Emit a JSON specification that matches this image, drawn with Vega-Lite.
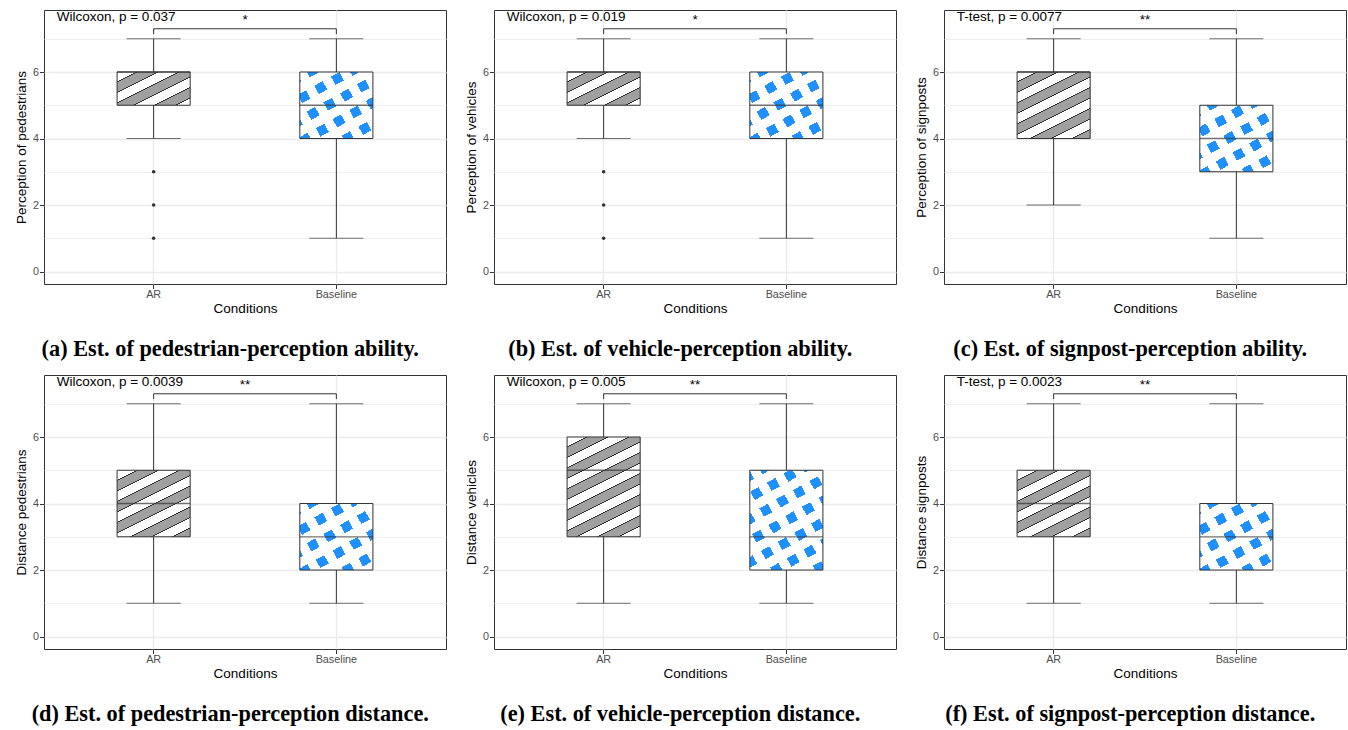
{
"$schema":"https://vega.github.io/schema/vega-lite/v6.json",
"padding":{"left":13,"top":9,"right":0,"bottom":0},
"background":"white",
"datasets":{"d":[
{"p":"a","cond":"AR","lo":4,"q1":5,"med":6,"q3":6,"hi":7},
{"p":"a","cond":"Baseline","lo":1,"q1":4,"med":5,"q3":6,"hi":7},
{"p":"a","cond":"AR","out":3},{"p":"a","cond":"AR","out":2},{"p":"a","cond":"AR","out":1},
{"p":"a","label":"Wilcoxon, p = 0.037","stars":"*"},
{"p":"b","cond":"AR","lo":4,"q1":5,"med":6,"q3":6,"hi":7},
{"p":"b","cond":"Baseline","lo":1,"q1":4,"med":5,"q3":6,"hi":7},
{"p":"b","cond":"AR","out":3},{"p":"b","cond":"AR","out":2},{"p":"b","cond":"AR","out":1},
{"p":"b","label":"Wilcoxon, p = 0.019","stars":"*"},
{"p":"c","cond":"AR","lo":2,"q1":4,"med":6,"q3":6,"hi":7},
{"p":"c","cond":"Baseline","lo":1,"q1":3,"med":4,"q3":5,"hi":7},
{"p":"c","label":"T-test, p = 0.0077","stars":"**"},
{"p":"d","cond":"AR","lo":1,"q1":3,"med":4,"q3":5,"hi":7},
{"p":"d","cond":"Baseline","lo":1,"q1":2,"med":3,"q3":4,"hi":7},
{"p":"d","label":"Wilcoxon, p = 0.0039","stars":"**"},
{"p":"e","cond":"AR","lo":1,"q1":3,"med":5,"q3":6,"hi":7},
{"p":"e","cond":"Baseline","lo":1,"q1":2,"med":3,"q3":5,"hi":7},
{"p":"e","label":"Wilcoxon, p = 0.005","stars":"**"},
{"p":"f","cond":"AR","lo":1,"q1":3,"med":4,"q3":5,"hi":7},
{"p":"f","cond":"Baseline","lo":1,"q1":2,"med":3,"q3":4,"hi":7},
{"p":"f","label":"T-test, p = 0.0023","stars":"**"}
]},
"columns":3,
"spacing":{"row":91,"column":48},
"bounds":"flush",
"concat":[
{"width":402,"height":274,"title":{"text":"(a) Est. of pedestrian-perception ability."},
"data":{"name":"d"},"transform":[{"filter":"datum.p=='a'"}],
"resolve":{"axis":{"y":"independent"}},
"layer":[
{"layer":[
{"transform":[{"filter":"isValid(datum.med)"}],"mark":{"type":"rule","color":"#333"},
"encoding":{"x":{"field":"cond","type":"nominal","scale":{"domain":["AR","Baseline"],"paddingInner":0,"paddingOuter":0.1},"axis":{"title":"Conditions"}},
"y":{"field":"lo","type":"quantitative","scale":{"domain":[-0.3745,7.8645],"nice":false,"zero":false},"axis":{"title":"Perception of pedestrians","values":[0,2,4,6]}},
"y2":{"field":"hi"}}},
{"transform":[{"filter":"isValid(datum.med)"}],"mark":{"type":"tick","color":"#333","size":54,"thickness":1},"encoding":{"x":{"field":"cond","type":"nominal"},"y":{"field":"lo","type":"quantitative"}}},
{"transform":[{"filter":"isValid(datum.med)"}],"mark":{"type":"tick","color":"#333","size":54,"thickness":1},"encoding":{"x":{"field":"cond","type":"nominal"},"y":{"field":"hi","type":"quantitative"}}},
{"transform":[{"filter":"datum.cond=='AR' && isValid(datum.med)"}],"mark":{"type":"bar","width":{"band":0.4},"fill":{"gradient":"linear","x1":0,"y1":0,"x2":1.0441,"y2":0.9515,"stops":[{"offset":0,"color":"#fff"},{"offset":0.1355,"color":"#fff"},{"offset":0.1355,"color":"#333"},{"offset":0.1505,"color":"#333"},{"offset":0.1505,"color":"#a0a0a0"},{"offset":0.286,"color":"#a0a0a0"},{"offset":0.286,"color":"#333"},{"offset":0.301,"color":"#333"},{"offset":0.301,"color":"#fff"},{"offset":0.4365,"color":"#fff"},{"offset":0.4365,"color":"#333"},{"offset":0.4516,"color":"#333"},{"offset":0.4516,"color":"#a0a0a0"},{"offset":0.587,"color":"#a0a0a0"},{"offset":0.587,"color":"#333"},{"offset":0.6021,"color":"#333"},{"offset":0.6021,"color":"#fff"},{"offset":0.7375,"color":"#fff"},{"offset":0.7375,"color":"#333"},{"offset":0.7526,"color":"#333"},{"offset":0.7526,"color":"#a0a0a0"},{"offset":0.888,"color":"#a0a0a0"},{"offset":0.888,"color":"#333"},{"offset":0.9031,"color":"#333"},{"offset":0.9031,"color":"#fff"},{"offset":1,"color":"#fff"}]}},
"encoding":{"x":{"field":"cond","type":"nominal"},"y":{"field":"q1","type":"quantitative"},"y2":{"field":"q3"}}},
{"transform":[{"filter":"datum.cond=='Baseline' && isValid(datum.med)"}],"mark":{"type":"bar","width":{"band":0.4},"fill":{"gradient":"linear","x1":0,"y1":0,"x2":0.7063,"y2":1.1762,"stops":[{"offset":0,"color":"#1e90ff"},{"offset":0.1017,"color":"#1e90ff"},{"offset":0.1017,"color":"#fff"},{"offset":0.2035,"color":"#fff"},{"offset":0.2035,"color":"#1e90ff"},{"offset":0.3052,"color":"#1e90ff"},{"offset":0.3052,"color":"#fff"},{"offset":0.4069,"color":"#fff"},{"offset":0.4069,"color":"#1e90ff"},{"offset":0.5087,"color":"#1e90ff"},{"offset":0.5087,"color":"#fff"},{"offset":0.6104,"color":"#fff"},{"offset":0.6104,"color":"#1e90ff"},{"offset":0.7122,"color":"#1e90ff"},{"offset":0.7122,"color":"#fff"},{"offset":0.8139,"color":"#fff"},{"offset":0.8139,"color":"#1e90ff"},{"offset":0.9156,"color":"#1e90ff"},{"offset":0.9156,"color":"#fff"},{"offset":1,"color":"#fff"}]}},
"encoding":{"x":{"field":"cond","type":"nominal"},"y":{"field":"q1","type":"quantitative"},"y2":{"field":"q3"}}},
{"transform":[{"filter":"datum.cond=='Baseline' && isValid(datum.med)"}],"mark":{"type":"bar","width":{"band":0.4},"fill":{"gradient":"linear","x1":0,"y1":1,"x2":1.2002,"y2":0.4013,"stops":[{"offset":0,"color":"rgba(255,255,255,0)"},{"offset":0.099,"color":"rgba(255,255,255,0)"},{"offset":0.099,"color":"#fff"},{"offset":0.198,"color":"#fff"},{"offset":0.198,"color":"rgba(255,255,255,0)"},{"offset":0.297,"color":"rgba(255,255,255,0)"},{"offset":0.297,"color":"#fff"},{"offset":0.396,"color":"#fff"},{"offset":0.396,"color":"rgba(255,255,255,0)"},{"offset":0.495,"color":"rgba(255,255,255,0)"},{"offset":0.495,"color":"#fff"},{"offset":0.5941,"color":"#fff"},{"offset":0.5941,"color":"rgba(255,255,255,0)"},{"offset":0.6931,"color":"rgba(255,255,255,0)"},{"offset":0.6931,"color":"#fff"},{"offset":0.7921,"color":"#fff"},{"offset":0.7921,"color":"rgba(255,255,255,0)"},{"offset":0.8911,"color":"rgba(255,255,255,0)"},{"offset":0.8911,"color":"#fff"},{"offset":0.9901,"color":"#fff"},{"offset":0.9901,"color":"rgba(255,255,255,0)"},{"offset":1,"color":"rgba(255,255,255,0)"}]}},
"encoding":{"x":{"field":"cond","type":"nominal"},"y":{"field":"q1","type":"quantitative"},"y2":{"field":"q3"}}},
{"transform":[{"filter":"isValid(datum.med)"}],"mark":{"type":"bar","width":{"band":0.4},"fill":"#fff","fillOpacity":0,"stroke":"#333","strokeWidth":1},"encoding":{"x":{"field":"cond","type":"nominal"},"y":{"field":"q1","type":"quantitative"},"y2":{"field":"q3"}}},
{"transform":[{"filter":"isValid(datum.out)"}],"mark":{"type":"circle","size":13,"color":"#333","opacity":1},"encoding":{"x":{"field":"cond","type":"nominal"},"y":{"field":"out","type":"quantitative"}}},
{"transform":[{"filter":"isValid(datum.label)"}],"mark":{"type":"rule","color":"#333"},"encoding":{"x":{"datum":"AR","type":"nominal"},"x2":{"datum":"Baseline"},"y":{"datum":7.3,"type":"quantitative"}}},
{"transform":[{"filter":"isValid(datum.med)"}],"mark":{"type":"rule","color":"#333"},"encoding":{"x":{"field":"cond","type":"nominal"},"y":{"datum":7.14,"type":"quantitative"},"y2":{"datum":7.3}}},
{"transform":[{"filter":"isValid(datum.label)"}],"mark":{"type":"text","align":"left","baseline":"alphabetic","dx":-97,"fontSize":13.5,"color":"#000"},"encoding":{"x":{"datum":"AR","type":"nominal"},"y":{"datum":7.52,"type":"quantitative"},"text":{"field":"label"}}},
{"transform":[{"filter":"isValid(datum.label)"}],"mark":{"type":"text","align":"center","baseline":"alphabetic","dx":91.4,"fontSize":13.5,"color":"#000"},"encoding":{"x":{"datum":"AR","type":"nominal"},"y":{"datum":7.45,"type":"quantitative"},"text":{"field":"stars"}}}
]},
{"transform":[{"filter":"isValid(datum.med)"}],"mark":{"type":"tick","color":"#333","size":73,"thickness":1.3},"encoding":{"x":{"field":"cond","type":"nominal"},"y":{"field":"med","type":"quantitative","axis":{"values":[1,3,5,7],"labels":false,"ticks":false,"title":null,"grid":true,"gridWidth":0.8}}}}
]},
{"width":402,"height":274,"title":{"text":"(b) Est. of vehicle-perception ability."},
"data":{"name":"d"},"transform":[{"filter":"datum.p=='b'"}],
"resolve":{"axis":{"y":"independent"}},
"layer":[
{"layer":[
{"transform":[{"filter":"isValid(datum.med)"}],"mark":{"type":"rule","color":"#333"},
"encoding":{"x":{"field":"cond","type":"nominal","scale":{"domain":["AR","Baseline"],"paddingInner":0,"paddingOuter":0.1},"axis":{"title":"Conditions"}},
"y":{"field":"lo","type":"quantitative","scale":{"domain":[-0.3745,7.8645],"nice":false,"zero":false},"axis":{"title":"Perception of vehicles","values":[0,2,4,6]}},
"y2":{"field":"hi"}}},
{"transform":[{"filter":"isValid(datum.med)"}],"mark":{"type":"tick","color":"#333","size":54,"thickness":1},"encoding":{"x":{"field":"cond","type":"nominal"},"y":{"field":"lo","type":"quantitative"}}},
{"transform":[{"filter":"isValid(datum.med)"}],"mark":{"type":"tick","color":"#333","size":54,"thickness":1},"encoding":{"x":{"field":"cond","type":"nominal"},"y":{"field":"hi","type":"quantitative"}}},
{"transform":[{"filter":"datum.cond=='AR' && isValid(datum.med)"}],"mark":{"type":"bar","width":{"band":0.4},"fill":{"gradient":"linear","x1":0,"y1":0,"x2":1.0441,"y2":0.9515,"stops":[{"offset":0,"color":"#fff"},{"offset":0.1355,"color":"#fff"},{"offset":0.1355,"color":"#333"},{"offset":0.1505,"color":"#333"},{"offset":0.1505,"color":"#a0a0a0"},{"offset":0.286,"color":"#a0a0a0"},{"offset":0.286,"color":"#333"},{"offset":0.301,"color":"#333"},{"offset":0.301,"color":"#fff"},{"offset":0.4365,"color":"#fff"},{"offset":0.4365,"color":"#333"},{"offset":0.4516,"color":"#333"},{"offset":0.4516,"color":"#a0a0a0"},{"offset":0.587,"color":"#a0a0a0"},{"offset":0.587,"color":"#333"},{"offset":0.6021,"color":"#333"},{"offset":0.6021,"color":"#fff"},{"offset":0.7375,"color":"#fff"},{"offset":0.7375,"color":"#333"},{"offset":0.7526,"color":"#333"},{"offset":0.7526,"color":"#a0a0a0"},{"offset":0.888,"color":"#a0a0a0"},{"offset":0.888,"color":"#333"},{"offset":0.9031,"color":"#333"},{"offset":0.9031,"color":"#fff"},{"offset":1,"color":"#fff"}]}},
"encoding":{"x":{"field":"cond","type":"nominal"},"y":{"field":"q1","type":"quantitative"},"y2":{"field":"q3"}}},
{"transform":[{"filter":"datum.cond=='Baseline' && isValid(datum.med)"}],"mark":{"type":"bar","width":{"band":0.4},"fill":{"gradient":"linear","x1":0,"y1":0,"x2":0.7063,"y2":1.1762,"stops":[{"offset":0,"color":"#1e90ff"},{"offset":0.1017,"color":"#1e90ff"},{"offset":0.1017,"color":"#fff"},{"offset":0.2035,"color":"#fff"},{"offset":0.2035,"color":"#1e90ff"},{"offset":0.3052,"color":"#1e90ff"},{"offset":0.3052,"color":"#fff"},{"offset":0.4069,"color":"#fff"},{"offset":0.4069,"color":"#1e90ff"},{"offset":0.5087,"color":"#1e90ff"},{"offset":0.5087,"color":"#fff"},{"offset":0.6104,"color":"#fff"},{"offset":0.6104,"color":"#1e90ff"},{"offset":0.7122,"color":"#1e90ff"},{"offset":0.7122,"color":"#fff"},{"offset":0.8139,"color":"#fff"},{"offset":0.8139,"color":"#1e90ff"},{"offset":0.9156,"color":"#1e90ff"},{"offset":0.9156,"color":"#fff"},{"offset":1,"color":"#fff"}]}},
"encoding":{"x":{"field":"cond","type":"nominal"},"y":{"field":"q1","type":"quantitative"},"y2":{"field":"q3"}}},
{"transform":[{"filter":"datum.cond=='Baseline' && isValid(datum.med)"}],"mark":{"type":"bar","width":{"band":0.4},"fill":{"gradient":"linear","x1":0,"y1":1,"x2":1.2002,"y2":0.4013,"stops":[{"offset":0,"color":"rgba(255,255,255,0)"},{"offset":0.099,"color":"rgba(255,255,255,0)"},{"offset":0.099,"color":"#fff"},{"offset":0.198,"color":"#fff"},{"offset":0.198,"color":"rgba(255,255,255,0)"},{"offset":0.297,"color":"rgba(255,255,255,0)"},{"offset":0.297,"color":"#fff"},{"offset":0.396,"color":"#fff"},{"offset":0.396,"color":"rgba(255,255,255,0)"},{"offset":0.495,"color":"rgba(255,255,255,0)"},{"offset":0.495,"color":"#fff"},{"offset":0.5941,"color":"#fff"},{"offset":0.5941,"color":"rgba(255,255,255,0)"},{"offset":0.6931,"color":"rgba(255,255,255,0)"},{"offset":0.6931,"color":"#fff"},{"offset":0.7921,"color":"#fff"},{"offset":0.7921,"color":"rgba(255,255,255,0)"},{"offset":0.8911,"color":"rgba(255,255,255,0)"},{"offset":0.8911,"color":"#fff"},{"offset":0.9901,"color":"#fff"},{"offset":0.9901,"color":"rgba(255,255,255,0)"},{"offset":1,"color":"rgba(255,255,255,0)"}]}},
"encoding":{"x":{"field":"cond","type":"nominal"},"y":{"field":"q1","type":"quantitative"},"y2":{"field":"q3"}}},
{"transform":[{"filter":"isValid(datum.med)"}],"mark":{"type":"bar","width":{"band":0.4},"fill":"#fff","fillOpacity":0,"stroke":"#333","strokeWidth":1},"encoding":{"x":{"field":"cond","type":"nominal"},"y":{"field":"q1","type":"quantitative"},"y2":{"field":"q3"}}},
{"transform":[{"filter":"isValid(datum.out)"}],"mark":{"type":"circle","size":13,"color":"#333","opacity":1},"encoding":{"x":{"field":"cond","type":"nominal"},"y":{"field":"out","type":"quantitative"}}},
{"transform":[{"filter":"isValid(datum.label)"}],"mark":{"type":"rule","color":"#333"},"encoding":{"x":{"datum":"AR","type":"nominal"},"x2":{"datum":"Baseline"},"y":{"datum":7.3,"type":"quantitative"}}},
{"transform":[{"filter":"isValid(datum.med)"}],"mark":{"type":"rule","color":"#333"},"encoding":{"x":{"field":"cond","type":"nominal"},"y":{"datum":7.14,"type":"quantitative"},"y2":{"datum":7.3}}},
{"transform":[{"filter":"isValid(datum.label)"}],"mark":{"type":"text","align":"left","baseline":"alphabetic","dx":-97,"fontSize":13.5,"color":"#000"},"encoding":{"x":{"datum":"AR","type":"nominal"},"y":{"datum":7.52,"type":"quantitative"},"text":{"field":"label"}}},
{"transform":[{"filter":"isValid(datum.label)"}],"mark":{"type":"text","align":"center","baseline":"alphabetic","dx":91.4,"fontSize":13.5,"color":"#000"},"encoding":{"x":{"datum":"AR","type":"nominal"},"y":{"datum":7.45,"type":"quantitative"},"text":{"field":"stars"}}}
]},
{"transform":[{"filter":"isValid(datum.med)"}],"mark":{"type":"tick","color":"#333","size":73,"thickness":1.3},"encoding":{"x":{"field":"cond","type":"nominal"},"y":{"field":"med","type":"quantitative","axis":{"values":[1,3,5,7],"labels":false,"ticks":false,"title":null,"grid":true,"gridWidth":0.8}}}}
]},
{"width":402,"height":274,"title":{"text":"(c) Est. of signpost-perception ability."},
"data":{"name":"d"},"transform":[{"filter":"datum.p=='c'"}],
"resolve":{"axis":{"y":"independent"}},
"layer":[
{"layer":[
{"transform":[{"filter":"isValid(datum.med)"}],"mark":{"type":"rule","color":"#333"},
"encoding":{"x":{"field":"cond","type":"nominal","scale":{"domain":["AR","Baseline"],"paddingInner":0,"paddingOuter":0.1},"axis":{"title":"Conditions"}},
"y":{"field":"lo","type":"quantitative","scale":{"domain":[-0.3745,7.8645],"nice":false,"zero":false},"axis":{"title":"Perception of signposts","values":[0,2,4,6]}},
"y2":{"field":"hi"}}},
{"transform":[{"filter":"isValid(datum.med)"}],"mark":{"type":"tick","color":"#333","size":54,"thickness":1},"encoding":{"x":{"field":"cond","type":"nominal"},"y":{"field":"lo","type":"quantitative"}}},
{"transform":[{"filter":"isValid(datum.med)"}],"mark":{"type":"tick","color":"#333","size":54,"thickness":1},"encoding":{"x":{"field":"cond","type":"nominal"},"y":{"field":"hi","type":"quantitative"}}},
{"transform":[{"filter":"datum.cond=='AR' && isValid(datum.med)"}],"mark":{"type":"bar","width":{"band":0.4},"fill":{"gradient":"linear","x1":0,"y1":0,"x2":0.6532,"y2":1.1904,"stops":[{"offset":0,"color":"#fff"},{"offset":0.0917,"color":"#fff"},{"offset":0.0917,"color":"#333"},{"offset":0.1019,"color":"#333"},{"offset":0.1019,"color":"#a0a0a0"},{"offset":0.1937,"color":"#a0a0a0"},{"offset":0.1937,"color":"#333"},{"offset":0.2038,"color":"#333"},{"offset":0.2038,"color":"#fff"},{"offset":0.2956,"color":"#fff"},{"offset":0.2956,"color":"#333"},{"offset":0.3058,"color":"#333"},{"offset":0.3058,"color":"#a0a0a0"},{"offset":0.3975,"color":"#a0a0a0"},{"offset":0.3975,"color":"#333"},{"offset":0.4077,"color":"#333"},{"offset":0.4077,"color":"#fff"},{"offset":0.4994,"color":"#fff"},{"offset":0.4994,"color":"#333"},{"offset":0.5096,"color":"#333"},{"offset":0.5096,"color":"#a0a0a0"},{"offset":0.6013,"color":"#a0a0a0"},{"offset":0.6013,"color":"#333"},{"offset":0.6115,"color":"#333"},{"offset":0.6115,"color":"#fff"},{"offset":0.7033,"color":"#fff"},{"offset":0.7033,"color":"#333"},{"offset":0.7134,"color":"#333"},{"offset":0.7134,"color":"#a0a0a0"},{"offset":0.8052,"color":"#a0a0a0"},{"offset":0.8052,"color":"#333"},{"offset":0.8154,"color":"#333"},{"offset":0.8154,"color":"#fff"},{"offset":0.9071,"color":"#fff"},{"offset":0.9071,"color":"#333"},{"offset":0.9173,"color":"#333"},{"offset":0.9173,"color":"#a0a0a0"},{"offset":1,"color":"#a0a0a0"}]}},
"encoding":{"x":{"field":"cond","type":"nominal"},"y":{"field":"q1","type":"quantitative"},"y2":{"field":"q3"}}},
{"transform":[{"filter":"datum.cond=='Baseline' && isValid(datum.med)"}],"mark":{"type":"bar","width":{"band":0.4},"fill":{"gradient":"linear","x1":0,"y1":0,"x2":0.7063,"y2":1.1762,"stops":[{"offset":0,"color":"#1e90ff"},{"offset":0.1017,"color":"#1e90ff"},{"offset":0.1017,"color":"#fff"},{"offset":0.2035,"color":"#fff"},{"offset":0.2035,"color":"#1e90ff"},{"offset":0.3052,"color":"#1e90ff"},{"offset":0.3052,"color":"#fff"},{"offset":0.4069,"color":"#fff"},{"offset":0.4069,"color":"#1e90ff"},{"offset":0.5087,"color":"#1e90ff"},{"offset":0.5087,"color":"#fff"},{"offset":0.6104,"color":"#fff"},{"offset":0.6104,"color":"#1e90ff"},{"offset":0.7122,"color":"#1e90ff"},{"offset":0.7122,"color":"#fff"},{"offset":0.8139,"color":"#fff"},{"offset":0.8139,"color":"#1e90ff"},{"offset":0.9156,"color":"#1e90ff"},{"offset":0.9156,"color":"#fff"},{"offset":1,"color":"#fff"}]}},
"encoding":{"x":{"field":"cond","type":"nominal"},"y":{"field":"q1","type":"quantitative"},"y2":{"field":"q3"}}},
{"transform":[{"filter":"datum.cond=='Baseline' && isValid(datum.med)"}],"mark":{"type":"bar","width":{"band":0.4},"fill":{"gradient":"linear","x1":0,"y1":1,"x2":1.2002,"y2":0.4013,"stops":[{"offset":0,"color":"rgba(255,255,255,0)"},{"offset":0.099,"color":"rgba(255,255,255,0)"},{"offset":0.099,"color":"#fff"},{"offset":0.198,"color":"#fff"},{"offset":0.198,"color":"rgba(255,255,255,0)"},{"offset":0.297,"color":"rgba(255,255,255,0)"},{"offset":0.297,"color":"#fff"},{"offset":0.396,"color":"#fff"},{"offset":0.396,"color":"rgba(255,255,255,0)"},{"offset":0.495,"color":"rgba(255,255,255,0)"},{"offset":0.495,"color":"#fff"},{"offset":0.5941,"color":"#fff"},{"offset":0.5941,"color":"rgba(255,255,255,0)"},{"offset":0.6931,"color":"rgba(255,255,255,0)"},{"offset":0.6931,"color":"#fff"},{"offset":0.7921,"color":"#fff"},{"offset":0.7921,"color":"rgba(255,255,255,0)"},{"offset":0.8911,"color":"rgba(255,255,255,0)"},{"offset":0.8911,"color":"#fff"},{"offset":0.9901,"color":"#fff"},{"offset":0.9901,"color":"rgba(255,255,255,0)"},{"offset":1,"color":"rgba(255,255,255,0)"}]}},
"encoding":{"x":{"field":"cond","type":"nominal"},"y":{"field":"q1","type":"quantitative"},"y2":{"field":"q3"}}},
{"transform":[{"filter":"isValid(datum.med)"}],"mark":{"type":"bar","width":{"band":0.4},"fill":"#fff","fillOpacity":0,"stroke":"#333","strokeWidth":1},"encoding":{"x":{"field":"cond","type":"nominal"},"y":{"field":"q1","type":"quantitative"},"y2":{"field":"q3"}}},
{"transform":[{"filter":"isValid(datum.label)"}],"mark":{"type":"rule","color":"#333"},"encoding":{"x":{"datum":"AR","type":"nominal"},"x2":{"datum":"Baseline"},"y":{"datum":7.3,"type":"quantitative"}}},
{"transform":[{"filter":"isValid(datum.med)"}],"mark":{"type":"rule","color":"#333"},"encoding":{"x":{"field":"cond","type":"nominal"},"y":{"datum":7.14,"type":"quantitative"},"y2":{"datum":7.3}}},
{"transform":[{"filter":"isValid(datum.label)"}],"mark":{"type":"text","align":"left","baseline":"alphabetic","dx":-97,"fontSize":13.5,"color":"#000"},"encoding":{"x":{"datum":"AR","type":"nominal"},"y":{"datum":7.52,"type":"quantitative"},"text":{"field":"label"}}},
{"transform":[{"filter":"isValid(datum.label)"}],"mark":{"type":"text","align":"center","baseline":"alphabetic","dx":91.4,"fontSize":13.5,"color":"#000"},"encoding":{"x":{"datum":"AR","type":"nominal"},"y":{"datum":7.45,"type":"quantitative"},"text":{"field":"stars"}}}
]},
{"transform":[{"filter":"isValid(datum.med)"}],"mark":{"type":"tick","color":"#333","size":73,"thickness":1.3},"encoding":{"x":{"field":"cond","type":"nominal"},"y":{"field":"med","type":"quantitative","axis":{"values":[1,3,5,7],"labels":false,"ticks":false,"title":null,"grid":true,"gridWidth":0.8}}}}
]},
{"width":402,"height":274,"title":{"text":"(d) Est. of pedestrian-perception distance."},
"data":{"name":"d"},"transform":[{"filter":"datum.p=='d'"}],
"resolve":{"axis":{"y":"independent"}},
"layer":[
{"layer":[
{"transform":[{"filter":"isValid(datum.med)"}],"mark":{"type":"rule","color":"#333"},
"encoding":{"x":{"field":"cond","type":"nominal","scale":{"domain":["AR","Baseline"],"paddingInner":0,"paddingOuter":0.1},"axis":{"title":"Conditions"}},
"y":{"field":"lo","type":"quantitative","scale":{"domain":[-0.3745,7.8645],"nice":false,"zero":false},"axis":{"title":"Distance pedestrians","values":[0,2,4,6]}},
"y2":{"field":"hi"}}},
{"transform":[{"filter":"isValid(datum.med)"}],"mark":{"type":"tick","color":"#333","size":54,"thickness":1},"encoding":{"x":{"field":"cond","type":"nominal"},"y":{"field":"lo","type":"quantitative"}}},
{"transform":[{"filter":"isValid(datum.med)"}],"mark":{"type":"tick","color":"#333","size":54,"thickness":1},"encoding":{"x":{"field":"cond","type":"nominal"},"y":{"field":"hi","type":"quantitative"}}},
{"transform":[{"filter":"datum.cond=='AR' && isValid(datum.med)"}],"mark":{"type":"bar","width":{"band":0.4},"fill":{"gradient":"linear","x1":0,"y1":0,"x2":0.6532,"y2":1.1904,"stops":[{"offset":0,"color":"#fff"},{"offset":0.0917,"color":"#fff"},{"offset":0.0917,"color":"#333"},{"offset":0.1019,"color":"#333"},{"offset":0.1019,"color":"#a0a0a0"},{"offset":0.1937,"color":"#a0a0a0"},{"offset":0.1937,"color":"#333"},{"offset":0.2038,"color":"#333"},{"offset":0.2038,"color":"#fff"},{"offset":0.2956,"color":"#fff"},{"offset":0.2956,"color":"#333"},{"offset":0.3058,"color":"#333"},{"offset":0.3058,"color":"#a0a0a0"},{"offset":0.3975,"color":"#a0a0a0"},{"offset":0.3975,"color":"#333"},{"offset":0.4077,"color":"#333"},{"offset":0.4077,"color":"#fff"},{"offset":0.4994,"color":"#fff"},{"offset":0.4994,"color":"#333"},{"offset":0.5096,"color":"#333"},{"offset":0.5096,"color":"#a0a0a0"},{"offset":0.6013,"color":"#a0a0a0"},{"offset":0.6013,"color":"#333"},{"offset":0.6115,"color":"#333"},{"offset":0.6115,"color":"#fff"},{"offset":0.7033,"color":"#fff"},{"offset":0.7033,"color":"#333"},{"offset":0.7134,"color":"#333"},{"offset":0.7134,"color":"#a0a0a0"},{"offset":0.8052,"color":"#a0a0a0"},{"offset":0.8052,"color":"#333"},{"offset":0.8154,"color":"#333"},{"offset":0.8154,"color":"#fff"},{"offset":0.9071,"color":"#fff"},{"offset":0.9071,"color":"#333"},{"offset":0.9173,"color":"#333"},{"offset":0.9173,"color":"#a0a0a0"},{"offset":1,"color":"#a0a0a0"}]}},
"encoding":{"x":{"field":"cond","type":"nominal"},"y":{"field":"q1","type":"quantitative"},"y2":{"field":"q3"}}},
{"transform":[{"filter":"datum.cond=='Baseline' && isValid(datum.med)"}],"mark":{"type":"bar","width":{"band":0.4},"fill":{"gradient":"linear","x1":0,"y1":0,"x2":0.7063,"y2":1.1762,"stops":[{"offset":0,"color":"#1e90ff"},{"offset":0.1017,"color":"#1e90ff"},{"offset":0.1017,"color":"#fff"},{"offset":0.2035,"color":"#fff"},{"offset":0.2035,"color":"#1e90ff"},{"offset":0.3052,"color":"#1e90ff"},{"offset":0.3052,"color":"#fff"},{"offset":0.4069,"color":"#fff"},{"offset":0.4069,"color":"#1e90ff"},{"offset":0.5087,"color":"#1e90ff"},{"offset":0.5087,"color":"#fff"},{"offset":0.6104,"color":"#fff"},{"offset":0.6104,"color":"#1e90ff"},{"offset":0.7122,"color":"#1e90ff"},{"offset":0.7122,"color":"#fff"},{"offset":0.8139,"color":"#fff"},{"offset":0.8139,"color":"#1e90ff"},{"offset":0.9156,"color":"#1e90ff"},{"offset":0.9156,"color":"#fff"},{"offset":1,"color":"#fff"}]}},
"encoding":{"x":{"field":"cond","type":"nominal"},"y":{"field":"q1","type":"quantitative"},"y2":{"field":"q3"}}},
{"transform":[{"filter":"datum.cond=='Baseline' && isValid(datum.med)"}],"mark":{"type":"bar","width":{"band":0.4},"fill":{"gradient":"linear","x1":0,"y1":1,"x2":1.2002,"y2":0.4013,"stops":[{"offset":0,"color":"rgba(255,255,255,0)"},{"offset":0.099,"color":"rgba(255,255,255,0)"},{"offset":0.099,"color":"#fff"},{"offset":0.198,"color":"#fff"},{"offset":0.198,"color":"rgba(255,255,255,0)"},{"offset":0.297,"color":"rgba(255,255,255,0)"},{"offset":0.297,"color":"#fff"},{"offset":0.396,"color":"#fff"},{"offset":0.396,"color":"rgba(255,255,255,0)"},{"offset":0.495,"color":"rgba(255,255,255,0)"},{"offset":0.495,"color":"#fff"},{"offset":0.5941,"color":"#fff"},{"offset":0.5941,"color":"rgba(255,255,255,0)"},{"offset":0.6931,"color":"rgba(255,255,255,0)"},{"offset":0.6931,"color":"#fff"},{"offset":0.7921,"color":"#fff"},{"offset":0.7921,"color":"rgba(255,255,255,0)"},{"offset":0.8911,"color":"rgba(255,255,255,0)"},{"offset":0.8911,"color":"#fff"},{"offset":0.9901,"color":"#fff"},{"offset":0.9901,"color":"rgba(255,255,255,0)"},{"offset":1,"color":"rgba(255,255,255,0)"}]}},
"encoding":{"x":{"field":"cond","type":"nominal"},"y":{"field":"q1","type":"quantitative"},"y2":{"field":"q3"}}},
{"transform":[{"filter":"isValid(datum.med)"}],"mark":{"type":"bar","width":{"band":0.4},"fill":"#fff","fillOpacity":0,"stroke":"#333","strokeWidth":1},"encoding":{"x":{"field":"cond","type":"nominal"},"y":{"field":"q1","type":"quantitative"},"y2":{"field":"q3"}}},
{"transform":[{"filter":"isValid(datum.label)"}],"mark":{"type":"rule","color":"#333"},"encoding":{"x":{"datum":"AR","type":"nominal"},"x2":{"datum":"Baseline"},"y":{"datum":7.3,"type":"quantitative"}}},
{"transform":[{"filter":"isValid(datum.med)"}],"mark":{"type":"rule","color":"#333"},"encoding":{"x":{"field":"cond","type":"nominal"},"y":{"datum":7.14,"type":"quantitative"},"y2":{"datum":7.3}}},
{"transform":[{"filter":"isValid(datum.label)"}],"mark":{"type":"text","align":"left","baseline":"alphabetic","dx":-97,"fontSize":13.5,"color":"#000"},"encoding":{"x":{"datum":"AR","type":"nominal"},"y":{"datum":7.52,"type":"quantitative"},"text":{"field":"label"}}},
{"transform":[{"filter":"isValid(datum.label)"}],"mark":{"type":"text","align":"center","baseline":"alphabetic","dx":91.4,"fontSize":13.5,"color":"#000"},"encoding":{"x":{"datum":"AR","type":"nominal"},"y":{"datum":7.45,"type":"quantitative"},"text":{"field":"stars"}}}
]},
{"transform":[{"filter":"isValid(datum.med)"}],"mark":{"type":"tick","color":"#333","size":73,"thickness":1.3},"encoding":{"x":{"field":"cond","type":"nominal"},"y":{"field":"med","type":"quantitative","axis":{"values":[1,3,5,7],"labels":false,"ticks":false,"title":null,"grid":true,"gridWidth":0.8}}}}
]},
{"width":402,"height":274,"title":{"text":"(e) Est. of vehicle-perception distance."},
"data":{"name":"d"},"transform":[{"filter":"datum.p=='e'"}],
"resolve":{"axis":{"y":"independent"}},
"layer":[
{"layer":[
{"transform":[{"filter":"isValid(datum.med)"}],"mark":{"type":"rule","color":"#333"},
"encoding":{"x":{"field":"cond","type":"nominal","scale":{"domain":["AR","Baseline"],"paddingInner":0,"paddingOuter":0.1},"axis":{"title":"Conditions"}},
"y":{"field":"lo","type":"quantitative","scale":{"domain":[-0.3745,7.8645],"nice":false,"zero":false},"axis":{"title":"Distance vehicles","values":[0,2,4,6]}},
"y2":{"field":"hi"}}},
{"transform":[{"filter":"isValid(datum.med)"}],"mark":{"type":"tick","color":"#333","size":54,"thickness":1},"encoding":{"x":{"field":"cond","type":"nominal"},"y":{"field":"lo","type":"quantitative"}}},
{"transform":[{"filter":"isValid(datum.med)"}],"mark":{"type":"tick","color":"#333","size":54,"thickness":1},"encoding":{"x":{"field":"cond","type":"nominal"},"y":{"field":"hi","type":"quantitative"}}},
{"transform":[{"filter":"datum.cond=='AR' && isValid(datum.med)"}],"mark":{"type":"bar","width":{"band":0.4},"fill":{"gradient":"linear","x1":0,"y1":0,"x2":0.4406,"y2":1.2047,"stops":[{"offset":0,"color":"#fff"},{"offset":0.0693,"color":"#fff"},{"offset":0.0693,"color":"#333"},{"offset":0.077,"color":"#333"},{"offset":0.077,"color":"#a0a0a0"},{"offset":0.1464,"color":"#a0a0a0"},{"offset":0.1464,"color":"#333"},{"offset":0.1541,"color":"#333"},{"offset":0.1541,"color":"#fff"},{"offset":0.2234,"color":"#fff"},{"offset":0.2234,"color":"#333"},{"offset":0.2311,"color":"#333"},{"offset":0.2311,"color":"#a0a0a0"},{"offset":0.3005,"color":"#a0a0a0"},{"offset":0.3005,"color":"#333"},{"offset":0.3082,"color":"#333"},{"offset":0.3082,"color":"#fff"},{"offset":0.3775,"color":"#fff"},{"offset":0.3775,"color":"#333"},{"offset":0.3852,"color":"#333"},{"offset":0.3852,"color":"#a0a0a0"},{"offset":0.4546,"color":"#a0a0a0"},{"offset":0.4546,"color":"#333"},{"offset":0.4623,"color":"#333"},{"offset":0.4623,"color":"#fff"},{"offset":0.5316,"color":"#fff"},{"offset":0.5316,"color":"#333"},{"offset":0.5393,"color":"#333"},{"offset":0.5393,"color":"#a0a0a0"},{"offset":0.6087,"color":"#a0a0a0"},{"offset":0.6087,"color":"#333"},{"offset":0.6164,"color":"#333"},{"offset":0.6164,"color":"#fff"},{"offset":0.6857,"color":"#fff"},{"offset":0.6857,"color":"#333"},{"offset":0.6934,"color":"#333"},{"offset":0.6934,"color":"#a0a0a0"},{"offset":0.7628,"color":"#a0a0a0"},{"offset":0.7628,"color":"#333"},{"offset":0.7705,"color":"#333"},{"offset":0.7705,"color":"#fff"},{"offset":0.8398,"color":"#fff"},{"offset":0.8398,"color":"#333"},{"offset":0.8475,"color":"#333"},{"offset":0.8475,"color":"#a0a0a0"},{"offset":0.9169,"color":"#a0a0a0"},{"offset":0.9169,"color":"#333"},{"offset":0.9245,"color":"#333"},{"offset":0.9245,"color":"#fff"},{"offset":0.9939,"color":"#fff"},{"offset":0.9939,"color":"#333"},{"offset":1,"color":"#333"}]}},
"encoding":{"x":{"field":"cond","type":"nominal"},"y":{"field":"q1","type":"quantitative"},"y2":{"field":"q3"}}},
{"transform":[{"filter":"datum.cond=='Baseline' && isValid(datum.med)"}],"mark":{"type":"bar","width":{"band":0.4},"fill":{"gradient":"linear","x1":0,"y1":0,"x2":0.4833,"y2":1.2071,"stops":[{"offset":0,"color":"#1e90ff"},{"offset":0.0775,"color":"#1e90ff"},{"offset":0.0775,"color":"#fff"},{"offset":0.155,"color":"#fff"},{"offset":0.155,"color":"#1e90ff"},{"offset":0.2326,"color":"#1e90ff"},{"offset":0.2326,"color":"#fff"},{"offset":0.3101,"color":"#fff"},{"offset":0.3101,"color":"#1e90ff"},{"offset":0.3876,"color":"#1e90ff"},{"offset":0.3876,"color":"#fff"},{"offset":0.4651,"color":"#fff"},{"offset":0.4651,"color":"#1e90ff"},{"offset":0.5426,"color":"#1e90ff"},{"offset":0.5426,"color":"#fff"},{"offset":0.6202,"color":"#fff"},{"offset":0.6202,"color":"#1e90ff"},{"offset":0.6977,"color":"#1e90ff"},{"offset":0.6977,"color":"#fff"},{"offset":0.7752,"color":"#fff"},{"offset":0.7752,"color":"#1e90ff"},{"offset":0.8527,"color":"#1e90ff"},{"offset":0.8527,"color":"#fff"},{"offset":0.9302,"color":"#fff"},{"offset":0.9302,"color":"#1e90ff"},{"offset":1,"color":"#1e90ff"}]}},
"encoding":{"x":{"field":"cond","type":"nominal"},"y":{"field":"q1","type":"quantitative"},"y2":{"field":"q3"}}},
{"transform":[{"filter":"datum.cond=='Baseline' && isValid(datum.med)"}],"mark":{"type":"bar","width":{"band":0.4},"fill":{"gradient":"linear","x1":0,"y1":1,"x2":1.1209,"y2":0.1616,"stops":[{"offset":0,"color":"rgba(255,255,255,0)"},{"offset":0.0849,"color":"rgba(255,255,255,0)"},{"offset":0.0849,"color":"#fff"},{"offset":0.1698,"color":"#fff"},{"offset":0.1698,"color":"rgba(255,255,255,0)"},{"offset":0.2547,"color":"rgba(255,255,255,0)"},{"offset":0.2547,"color":"#fff"},{"offset":0.3396,"color":"#fff"},{"offset":0.3396,"color":"rgba(255,255,255,0)"},{"offset":0.4245,"color":"rgba(255,255,255,0)"},{"offset":0.4245,"color":"#fff"},{"offset":0.5093,"color":"#fff"},{"offset":0.5093,"color":"rgba(255,255,255,0)"},{"offset":0.5942,"color":"rgba(255,255,255,0)"},{"offset":0.5942,"color":"#fff"},{"offset":0.6791,"color":"#fff"},{"offset":0.6791,"color":"rgba(255,255,255,0)"},{"offset":0.764,"color":"rgba(255,255,255,0)"},{"offset":0.764,"color":"#fff"},{"offset":0.8489,"color":"#fff"},{"offset":0.8489,"color":"rgba(255,255,255,0)"},{"offset":0.9338,"color":"rgba(255,255,255,0)"},{"offset":0.9338,"color":"#fff"},{"offset":1,"color":"#fff"}]}},
"encoding":{"x":{"field":"cond","type":"nominal"},"y":{"field":"q1","type":"quantitative"},"y2":{"field":"q3"}}},
{"transform":[{"filter":"isValid(datum.med)"}],"mark":{"type":"bar","width":{"band":0.4},"fill":"#fff","fillOpacity":0,"stroke":"#333","strokeWidth":1},"encoding":{"x":{"field":"cond","type":"nominal"},"y":{"field":"q1","type":"quantitative"},"y2":{"field":"q3"}}},
{"transform":[{"filter":"isValid(datum.label)"}],"mark":{"type":"rule","color":"#333"},"encoding":{"x":{"datum":"AR","type":"nominal"},"x2":{"datum":"Baseline"},"y":{"datum":7.3,"type":"quantitative"}}},
{"transform":[{"filter":"isValid(datum.med)"}],"mark":{"type":"rule","color":"#333"},"encoding":{"x":{"field":"cond","type":"nominal"},"y":{"datum":7.14,"type":"quantitative"},"y2":{"datum":7.3}}},
{"transform":[{"filter":"isValid(datum.label)"}],"mark":{"type":"text","align":"left","baseline":"alphabetic","dx":-97,"fontSize":13.5,"color":"#000"},"encoding":{"x":{"datum":"AR","type":"nominal"},"y":{"datum":7.52,"type":"quantitative"},"text":{"field":"label"}}},
{"transform":[{"filter":"isValid(datum.label)"}],"mark":{"type":"text","align":"center","baseline":"alphabetic","dx":91.4,"fontSize":13.5,"color":"#000"},"encoding":{"x":{"datum":"AR","type":"nominal"},"y":{"datum":7.45,"type":"quantitative"},"text":{"field":"stars"}}}
]},
{"transform":[{"filter":"isValid(datum.med)"}],"mark":{"type":"tick","color":"#333","size":73,"thickness":1.3},"encoding":{"x":{"field":"cond","type":"nominal"},"y":{"field":"med","type":"quantitative","axis":{"values":[1,3,5,7],"labels":false,"ticks":false,"title":null,"grid":true,"gridWidth":0.8}}}}
]},
{"width":402,"height":274,"title":{"text":"(f) Est. of signpost-perception distance."},
"data":{"name":"d"},"transform":[{"filter":"datum.p=='f'"}],
"resolve":{"axis":{"y":"independent"}},
"layer":[
{"layer":[
{"transform":[{"filter":"isValid(datum.med)"}],"mark":{"type":"rule","color":"#333"},
"encoding":{"x":{"field":"cond","type":"nominal","scale":{"domain":["AR","Baseline"],"paddingInner":0,"paddingOuter":0.1},"axis":{"title":"Conditions"}},
"y":{"field":"lo","type":"quantitative","scale":{"domain":[-0.3745,7.8645],"nice":false,"zero":false},"axis":{"title":"Distance signposts","values":[0,2,4,6]}},
"y2":{"field":"hi"}}},
{"transform":[{"filter":"isValid(datum.med)"}],"mark":{"type":"tick","color":"#333","size":54,"thickness":1},"encoding":{"x":{"field":"cond","type":"nominal"},"y":{"field":"lo","type":"quantitative"}}},
{"transform":[{"filter":"isValid(datum.med)"}],"mark":{"type":"tick","color":"#333","size":54,"thickness":1},"encoding":{"x":{"field":"cond","type":"nominal"},"y":{"field":"hi","type":"quantitative"}}},
{"transform":[{"filter":"datum.cond=='AR' && isValid(datum.med)"}],"mark":{"type":"bar","width":{"band":0.4},"fill":{"gradient":"linear","x1":0,"y1":0,"x2":0.6532,"y2":1.1904,"stops":[{"offset":0,"color":"#fff"},{"offset":0.0917,"color":"#fff"},{"offset":0.0917,"color":"#333"},{"offset":0.1019,"color":"#333"},{"offset":0.1019,"color":"#a0a0a0"},{"offset":0.1937,"color":"#a0a0a0"},{"offset":0.1937,"color":"#333"},{"offset":0.2038,"color":"#333"},{"offset":0.2038,"color":"#fff"},{"offset":0.2956,"color":"#fff"},{"offset":0.2956,"color":"#333"},{"offset":0.3058,"color":"#333"},{"offset":0.3058,"color":"#a0a0a0"},{"offset":0.3975,"color":"#a0a0a0"},{"offset":0.3975,"color":"#333"},{"offset":0.4077,"color":"#333"},{"offset":0.4077,"color":"#fff"},{"offset":0.4994,"color":"#fff"},{"offset":0.4994,"color":"#333"},{"offset":0.5096,"color":"#333"},{"offset":0.5096,"color":"#a0a0a0"},{"offset":0.6013,"color":"#a0a0a0"},{"offset":0.6013,"color":"#333"},{"offset":0.6115,"color":"#333"},{"offset":0.6115,"color":"#fff"},{"offset":0.7033,"color":"#fff"},{"offset":0.7033,"color":"#333"},{"offset":0.7134,"color":"#333"},{"offset":0.7134,"color":"#a0a0a0"},{"offset":0.8052,"color":"#a0a0a0"},{"offset":0.8052,"color":"#333"},{"offset":0.8154,"color":"#333"},{"offset":0.8154,"color":"#fff"},{"offset":0.9071,"color":"#fff"},{"offset":0.9071,"color":"#333"},{"offset":0.9173,"color":"#333"},{"offset":0.9173,"color":"#a0a0a0"},{"offset":1,"color":"#a0a0a0"}]}},
"encoding":{"x":{"field":"cond","type":"nominal"},"y":{"field":"q1","type":"quantitative"},"y2":{"field":"q3"}}},
{"transform":[{"filter":"datum.cond=='Baseline' && isValid(datum.med)"}],"mark":{"type":"bar","width":{"band":0.4},"fill":{"gradient":"linear","x1":0,"y1":0,"x2":0.7063,"y2":1.1762,"stops":[{"offset":0,"color":"#1e90ff"},{"offset":0.1017,"color":"#1e90ff"},{"offset":0.1017,"color":"#fff"},{"offset":0.2035,"color":"#fff"},{"offset":0.2035,"color":"#1e90ff"},{"offset":0.3052,"color":"#1e90ff"},{"offset":0.3052,"color":"#fff"},{"offset":0.4069,"color":"#fff"},{"offset":0.4069,"color":"#1e90ff"},{"offset":0.5087,"color":"#1e90ff"},{"offset":0.5087,"color":"#fff"},{"offset":0.6104,"color":"#fff"},{"offset":0.6104,"color":"#1e90ff"},{"offset":0.7122,"color":"#1e90ff"},{"offset":0.7122,"color":"#fff"},{"offset":0.8139,"color":"#fff"},{"offset":0.8139,"color":"#1e90ff"},{"offset":0.9156,"color":"#1e90ff"},{"offset":0.9156,"color":"#fff"},{"offset":1,"color":"#fff"}]}},
"encoding":{"x":{"field":"cond","type":"nominal"},"y":{"field":"q1","type":"quantitative"},"y2":{"field":"q3"}}},
{"transform":[{"filter":"datum.cond=='Baseline' && isValid(datum.med)"}],"mark":{"type":"bar","width":{"band":0.4},"fill":{"gradient":"linear","x1":0,"y1":1,"x2":1.2002,"y2":0.4013,"stops":[{"offset":0,"color":"rgba(255,255,255,0)"},{"offset":0.099,"color":"rgba(255,255,255,0)"},{"offset":0.099,"color":"#fff"},{"offset":0.198,"color":"#fff"},{"offset":0.198,"color":"rgba(255,255,255,0)"},{"offset":0.297,"color":"rgba(255,255,255,0)"},{"offset":0.297,"color":"#fff"},{"offset":0.396,"color":"#fff"},{"offset":0.396,"color":"rgba(255,255,255,0)"},{"offset":0.495,"color":"rgba(255,255,255,0)"},{"offset":0.495,"color":"#fff"},{"offset":0.5941,"color":"#fff"},{"offset":0.5941,"color":"rgba(255,255,255,0)"},{"offset":0.6931,"color":"rgba(255,255,255,0)"},{"offset":0.6931,"color":"#fff"},{"offset":0.7921,"color":"#fff"},{"offset":0.7921,"color":"rgba(255,255,255,0)"},{"offset":0.8911,"color":"rgba(255,255,255,0)"},{"offset":0.8911,"color":"#fff"},{"offset":0.9901,"color":"#fff"},{"offset":0.9901,"color":"rgba(255,255,255,0)"},{"offset":1,"color":"rgba(255,255,255,0)"}]}},
"encoding":{"x":{"field":"cond","type":"nominal"},"y":{"field":"q1","type":"quantitative"},"y2":{"field":"q3"}}},
{"transform":[{"filter":"isValid(datum.med)"}],"mark":{"type":"bar","width":{"band":0.4},"fill":"#fff","fillOpacity":0,"stroke":"#333","strokeWidth":1},"encoding":{"x":{"field":"cond","type":"nominal"},"y":{"field":"q1","type":"quantitative"},"y2":{"field":"q3"}}},
{"transform":[{"filter":"isValid(datum.label)"}],"mark":{"type":"rule","color":"#333"},"encoding":{"x":{"datum":"AR","type":"nominal"},"x2":{"datum":"Baseline"},"y":{"datum":7.3,"type":"quantitative"}}},
{"transform":[{"filter":"isValid(datum.med)"}],"mark":{"type":"rule","color":"#333"},"encoding":{"x":{"field":"cond","type":"nominal"},"y":{"datum":7.14,"type":"quantitative"},"y2":{"datum":7.3}}},
{"transform":[{"filter":"isValid(datum.label)"}],"mark":{"type":"text","align":"left","baseline":"alphabetic","dx":-97,"fontSize":13.5,"color":"#000"},"encoding":{"x":{"datum":"AR","type":"nominal"},"y":{"datum":7.52,"type":"quantitative"},"text":{"field":"label"}}},
{"transform":[{"filter":"isValid(datum.label)"}],"mark":{"type":"text","align":"center","baseline":"alphabetic","dx":91.4,"fontSize":13.5,"color":"#000"},"encoding":{"x":{"datum":"AR","type":"nominal"},"y":{"datum":7.45,"type":"quantitative"},"text":{"field":"stars"}}}
]},
{"transform":[{"filter":"isValid(datum.med)"}],"mark":{"type":"tick","color":"#333","size":73,"thickness":1.3},"encoding":{"x":{"field":"cond","type":"nominal"},"y":{"field":"med","type":"quantitative","axis":{"values":[1,3,5,7],"labels":false,"ticks":false,"title":null,"grid":true,"gridWidth":0.8}}}}
]}
],
"config":{
"font":"Liberation Sans",
"view":{"stroke":"#333","strokeWidth":1,"fill":"white"},
"title":{"orient":"bottom","frame":"bounds","anchor":"middle","font":"Liberation Serif","fontWeight":"bold","fontSize":22.3,"color":"#000","offset":23},
"axis":{"labelFont":"Liberation Sans","labelFontSize":10.8,"labelColor":"#4d4d4d","titleFont":"Liberation Sans","titleFontSize":13.5,"titleFontWeight":"normal","titleColor":"#000","tickColor":"#333","tickSize":4.5,"tickWidth":1,"domain":false,"gridColor":"#ebebeb","gridWidth":1.3,"gridOpacity":1},
"axisX":{"labelPadding":0,"titlePadding":2},
"axisY":{"labelPadding":1,"titlePadding":4},
"axisBand":{"bandPosition":0.5,"grid":true,"labelAngle":0}
}
}
